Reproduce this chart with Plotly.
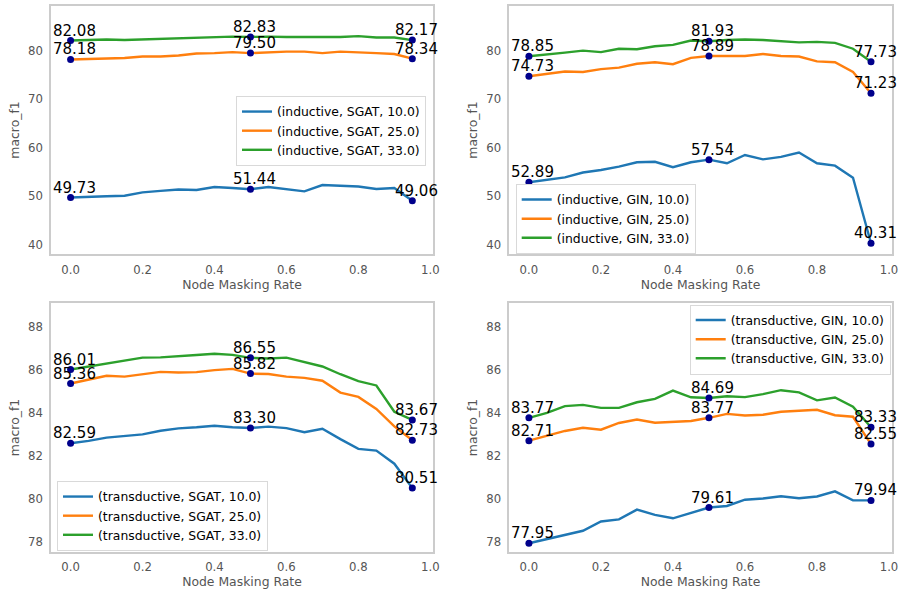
import plotly.graph_objects as go

# ---------------- data ----------------
mask_rate = [0.0, 0.05, 0.1, 0.15, 0.2, 0.25, 0.3, 0.35, 0.4, 0.45,
             0.5, 0.55, 0.6, 0.65, 0.7, 0.75, 0.8, 0.85, 0.9, 0.95]

ind_sgat_10 = [49.73, 49.8, 50.0, 50.1, 50.8, 51.1, 51.4, 51.3, 51.9, 51.7,
               51.44, 51.9, 51.4, 51.0, 52.3, 52.2, 52.0, 51.5, 51.7, 49.06]
ind_sgat_25 = [78.18, 78.3, 78.4, 78.5, 78.8, 78.8, 79.0, 79.4, 79.5, 79.7,
               79.50, 79.7, 79.8, 79.8, 79.5, 79.8, 79.7, 79.5, 79.3, 78.34]
ind_sgat_33 = [82.08, 82.2, 82.3, 82.2, 82.3, 82.4, 82.6, 82.7, 82.7, 82.9,
               82.83, 82.9, 82.8, 82.8, 82.9, 82.8, 83.0, 82.7, 82.7, 82.17]

ind_gin_10 = [52.89, 53.4, 53.9, 54.9, 55.4, 56.1, 57.0, 57.1, 56.0, 57.0,
              57.54, 56.8, 58.5, 57.6, 58.1, 59.0, 56.8, 56.3, 53.8, 40.31]
ind_gin_25 = [74.73, 75.2, 75.7, 75.6, 76.2, 76.5, 77.3, 77.6, 77.2, 78.5,
              78.89, 78.9, 78.9, 79.3, 78.9, 78.8, 77.8, 77.6, 75.6, 71.23]
ind_gin_33 = [78.85, 79.3, 79.6, 80.0, 79.7, 80.4, 80.3, 80.9, 81.2, 82.1,
              81.93, 82.2, 82.3, 82.2, 82.0, 81.7, 81.8, 81.6, 80.4, 77.73]

tra_sgat_10 = [82.59, 82.70, 82.85, 82.92, 83.00, 83.17, 83.28, 83.33, 83.40, 83.33,
               83.30, 83.36, 83.29, 83.10, 83.26, 82.78, 82.33, 82.25, 81.64, 80.51]
tra_sgat_25 = [85.36, 85.55, 85.72, 85.68, 85.79, 85.90, 85.87, 85.89, 85.98, 86.04,
               85.82, 85.80, 85.68, 85.62, 85.49, 84.94, 84.74, 84.18, 83.37, 82.73]
tra_sgat_33 = [86.01, 86.15, 86.30, 86.42, 86.56, 86.57, 86.64, 86.68, 86.74, 86.69,
               86.55, 86.52, 86.56, 86.37, 86.15, 85.79, 85.47, 85.27, 84.05, 83.67]

tra_gin_10 = [77.95, 78.15, 78.36, 78.53, 78.96, 79.06, 79.51, 79.27, 79.11, 79.35,
              79.61, 79.68, 79.97, 80.03, 80.13, 80.04, 80.12, 80.36, 79.94, 79.94]
tra_gin_25 = [82.71, 82.95, 83.16, 83.31, 83.22, 83.53, 83.69, 83.54, 83.58, 83.62,
              83.77, 83.95, 83.88, 83.91, 84.05, 84.09, 84.14, 83.89, 83.82, 82.55]
tra_gin_33 = [83.77, 84.00, 84.31, 84.37, 84.23, 84.23, 84.49, 84.65, 85.03, 84.72,
              84.69, 84.77, 84.73, 84.87, 85.05, 84.95, 84.58, 84.71, 84.28, 83.33]

ratios = ["10.0", "25.0", "33.0"]
x_ticks = [0.0, 0.2, 0.4, 0.6, 0.8, 1.0]
y_ticks_top = [40, 50, 60, 70, 80]
y_ticks_bottom = [78, 80, 82, 84, 86, 88]
marked_idx = [0, 10, 19]

colors = ["#1f77b4", "#ff7f0e", "#2ca02c"]
FONT = "DejaVu Sans"
W, H = 901, 593

panels = [
    dict(setting="inductive", model="SGAT", series=[ind_sgat_10, ind_sgat_25, ind_sgat_33],
         xd=(51, 433), yd=(6, 254), yr=(38.1, 89.2), yt=y_ticks_top,
         leg=dict(x=426 / W, y=1 - 131 / H, xanchor="right", yanchor="middle")),
    dict(setting="inductive", model="GIN", series=[ind_gin_10, ind_gin_25, ind_gin_33],
         xd=(509.3, 891.7), yd=(6, 254), yr=(38.1, 89.2), yt=y_ticks_top,
         leg=dict(x=515.7 / W, y=1 - 219 / H, xanchor="left", yanchor="middle")),
    dict(setting="transductive", model="SGAT", series=[tra_sgat_10, tra_sgat_25, tra_sgat_33],
         xd=(51, 433), yd=(303.3, 551.7), yr=(77.56, 89.08), yt=y_ticks_bottom,
         leg=dict(x=57 / W, y=1 - 516 / H, xanchor="left", yanchor="middle")),
    dict(setting="transductive", model="GIN", series=[tra_gin_10, tra_gin_25, tra_gin_33],
         xd=(509.3, 891.7), yd=(303.3, 551.7), yr=(77.56, 89.08), yt=y_ticks_bottom,
         leg=dict(x=890.7 / W, y=1 - 339.5 / H, xanchor="right", yanchor="middle")),
]

fig = go.Figure()
layout = dict(
    width=W, height=H,
    margin=dict(l=0, r=0, t=0, b=0),
    paper_bgcolor="white", plot_bgcolor="white",
    font=dict(family=FONT, size=12, color="#555555"),
    showlegend=True,
)
annotations = []

for k, p in enumerate(panels):
    n = k + 1
    xa = "x" if n == 1 else f"x{n}"
    ya = "y" if n == 1 else f"y{n}"
    legname = "legend" if n == 1 else f"legend{n}"
    for s, vals in enumerate(p["series"]):
        fig.add_trace(go.Scatter(
            x=mask_rate, y=vals, mode="lines",
            line=dict(color=colors[s], width=2.4),
            name=f"({p['setting']}, {p['model']}, {ratios[s]})",
            xaxis=xa, yaxis=ya, legend=legname, showlegend=True,
        ))
    for s, vals in enumerate(p["series"]):
        mx = [mask_rate[i] for i in marked_idx]
        my = [vals[i] for i in marked_idx]
        fig.add_trace(go.Scatter(
            x=mx, y=my, mode="markers",
            marker=dict(color="#00008b", size=7),
            xaxis=xa, yaxis=ya, showlegend=False, hoverinfo="skip",
        ))
        for xv, yv in zip(mx, my):
            annotations.append(dict(
                x=xv, y=yv, xref=xa, yref=ya, text=f"{yv:.2f}",
                showarrow=False, xanchor="center", yanchor="bottom",
                xshift=4, yshift=-1,
                font=dict(family=FONT, size=15, color="black"),
            ))

    axis_common = dict(
        showgrid=False, zeroline=False, showline=True, mirror=True,
        linecolor="#cccccc", linewidth=1.5,
        ticks="outside", ticklen=4, tickcolor="rgba(0,0,0,0)",
        tickfont=dict(family=FONT, size=11.7, color="#555555"),
        automargin=False,
    )
    layout["xaxis" if n == 1 else f"xaxis{n}"] = dict(
        axis_common, domain=[p["xd"][0] / W, p["xd"][1] / W],
        range=[-0.0545, 1.0075], tickvals=x_ticks, tickformat=".1f",
        anchor=ya,
        title=dict(text="Node Masking Rate", standoff=4,
                   font=dict(family=FONT, size=12.4, color="#555555")),
    )
    layout["yaxis" if n == 1 else f"yaxis{n}"] = dict(
        axis_common, domain=[1 - p["yd"][1] / H, 1 - p["yd"][0] / H],
        range=list(p["yr"]), tickvals=p["yt"],
        anchor=xa,
        title=dict(text="macro_f1", standoff=6,
                   font=dict(family=FONT, size=12.4, color="#555555")),
    )
    layout[legname] = dict(
        p["leg"], bgcolor="white", bordercolor="#d9d9d9", borderwidth=1,
        font=dict(family=FONT, size=12.4, color="black"),
        tracegroupgap=0,
    )

layout["annotations"] = annotations
fig.update_layout(**layout)
fig.write_html(
    "out.html",
    config={"displayModeBar": False},
    post_script="document.body.style.margin='0';document.body.style.overflow='hidden';",
)
